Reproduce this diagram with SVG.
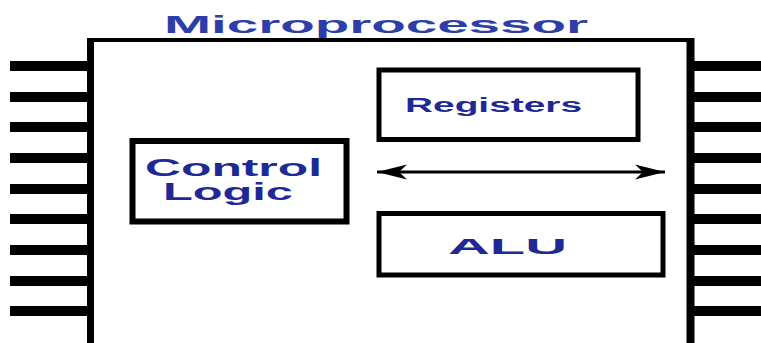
<svg xmlns="http://www.w3.org/2000/svg" width="761" height="343" viewBox="0 0 761 343">
  <defs>
    <style>
      .pin { fill: #000; }
      .box { fill: none; stroke: #000; stroke-width: 6; }
      .thin { stroke-width: 5; }
      .lbl { font-family: "Liberation Sans", Arial, sans-serif; font-weight: bold; fill: #1f2996; }
      .title { font-family: "Liberation Sans", Arial, sans-serif; font-weight: bold; fill: #2d3ea8; }
    </style>
    <marker id="ah" markerUnits="userSpaceOnUse" markerWidth="32" markerHeight="18" refX="30" refY="9" orient="auto-start-reverse">
      <path d="M0,1.5 L30,9 L0,16.5 L8,9 Z" fill="#000"/>
    </marker>
  </defs>
  <rect width="761" height="343" fill="#fff"/>

  <g id="title">
    <text class="title" x="164" y="33" font-size="23" textLength="424" lengthAdjust="spacingAndGlyphs">Microprocessor</text>
  </g>

  <g id="chip">
    <line x1="90.5" y1="40" x2="90.5" y2="343" stroke="#000" stroke-width="7"/>
    <line x1="87" y1="40" x2="694" y2="40" stroke="#000" stroke-width="4"/>
    <line x1="690.5" y1="38" x2="690.5" y2="343" stroke="#000" stroke-width="8"/>
  </g>

  <g id="pins-left">
    <rect class="pin" x="10" y="61" width="80" height="10"/>
    <rect class="pin" x="10" y="92" width="80" height="10"/>
    <rect class="pin" x="10" y="122" width="80" height="10"/>
    <rect class="pin" x="10" y="153" width="80" height="10"/>
    <rect class="pin" x="10" y="184" width="80" height="10"/>
    <rect class="pin" x="10" y="214" width="80" height="10"/>
    <rect class="pin" x="10" y="245" width="80" height="10"/>
    <rect class="pin" x="10" y="276" width="80" height="10"/>
    <rect class="pin" x="10" y="306" width="80" height="10"/>
  </g>
  <g id="pins-right">
    <rect class="pin" x="692" y="61" width="69" height="10"/>
    <rect class="pin" x="692" y="92" width="69" height="10"/>
    <rect class="pin" x="692" y="122" width="69" height="10"/>
    <rect class="pin" x="692" y="153" width="69" height="10"/>
    <rect class="pin" x="692" y="184" width="69" height="10"/>
    <rect class="pin" x="692" y="214" width="69" height="10"/>
    <rect class="pin" x="692" y="245" width="69" height="10"/>
    <rect class="pin" x="692" y="276" width="69" height="10"/>
    <rect class="pin" x="692" y="306" width="69" height="10"/>
  </g>

  <g id="control-logic">
    <rect class="box" x="132.5" y="141" width="214" height="80.5"/>
    <text class="lbl" x="145" y="176" font-size="24" textLength="177" lengthAdjust="spacingAndGlyphs">Control</text>
    <text class="lbl" x="163" y="200" font-size="23" textLength="130" lengthAdjust="spacingAndGlyphs">Logic</text>
  </g>

  <g id="registers">
    <rect class="box thin" x="379" y="70" width="259" height="69.5"/>
    <text class="lbl" x="405" y="112" font-size="20" textLength="177" lengthAdjust="spacingAndGlyphs">Registers</text>
  </g>

  <g id="alu">
    <rect class="box thin" x="379" y="213.5" width="284" height="61.5"/>
    <text class="lbl" x="448" y="254" font-size="22.5" textLength="119" lengthAdjust="spacingAndGlyphs">ALU</text>
  </g>

  <g id="connectors">
    <line x1="377" y1="172" x2="665" y2="172" stroke="#000" stroke-width="3" marker-start="url(#ah)" marker-end="url(#ah)"/>
  </g>
</svg>
